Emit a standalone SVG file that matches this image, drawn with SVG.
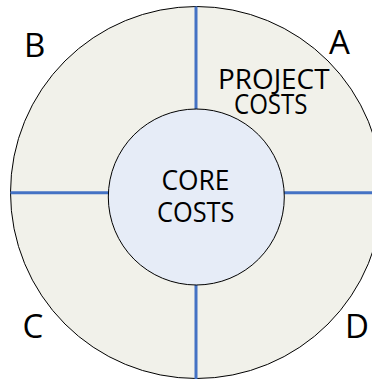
<svg xmlns="http://www.w3.org/2000/svg" width="372" height="379" viewBox="0 0 372 379">
  <style>
    .ring { fill: #F1F1EA; stroke: #000000; stroke-width: 1; }
    .core { fill: #E6ECF7; stroke: #000000; stroke-width: 1; }
    .divider { stroke: #4472C4; stroke-width: 3; fill: none; }
    .label { font-family: "Open Sans", "Liberation Sans", sans-serif; fill: #000000; }
    .big { font-size: 33px; }
    .mid { font-size: 28px; }
  </style>
  <rect width="372" height="379" fill="#FFFFFF"/>

  <!-- outer ring: project costs -->
  <g id="project-ring">
    <circle class="ring" cx="196.5" cy="192.5" r="186"/>
  </g>

  <!-- quadrant dividers -->
  <g id="connectors">
    <line class="divider" x1="196" y1="6.5" x2="196" y2="379"/>
    <line class="divider" x1="10.5" y1="192.7" x2="372" y2="192.7"/>
  </g>

  <!-- inner circle: core costs -->
  <g id="core">
    <circle class="core" cx="196.3" cy="197" r="88"/>
    <text class="label mid" x="161.5" y="189.5" textLength="68" lengthAdjust="spacingAndGlyphs">CORE</text>
    <text class="label mid" x="157" y="221.8" textLength="77.5" lengthAdjust="spacingAndGlyphs">COSTS</text>
  </g>

  <g id="project-label">
    <text class="label mid" x="218" y="89" textLength="111.5" lengthAdjust="spacingAndGlyphs">PROJECT</text>
    <text class="label mid" x="234" y="114" textLength="73.5" lengthAdjust="spacingAndGlyphs">COSTS</text>
  </g>

  <!-- quadrant letters -->
  <g id="quadrant-a"><text class="label big" x="329" y="54">A</text></g>
  <g id="quadrant-b"><text class="label big" x="24" y="57">B</text></g>
  <g id="quadrant-c"><text class="label big" x="22.5" y="338">C</text></g>
  <g id="quadrant-d"><text class="label big" x="345" y="338">D</text></g>
</svg>
